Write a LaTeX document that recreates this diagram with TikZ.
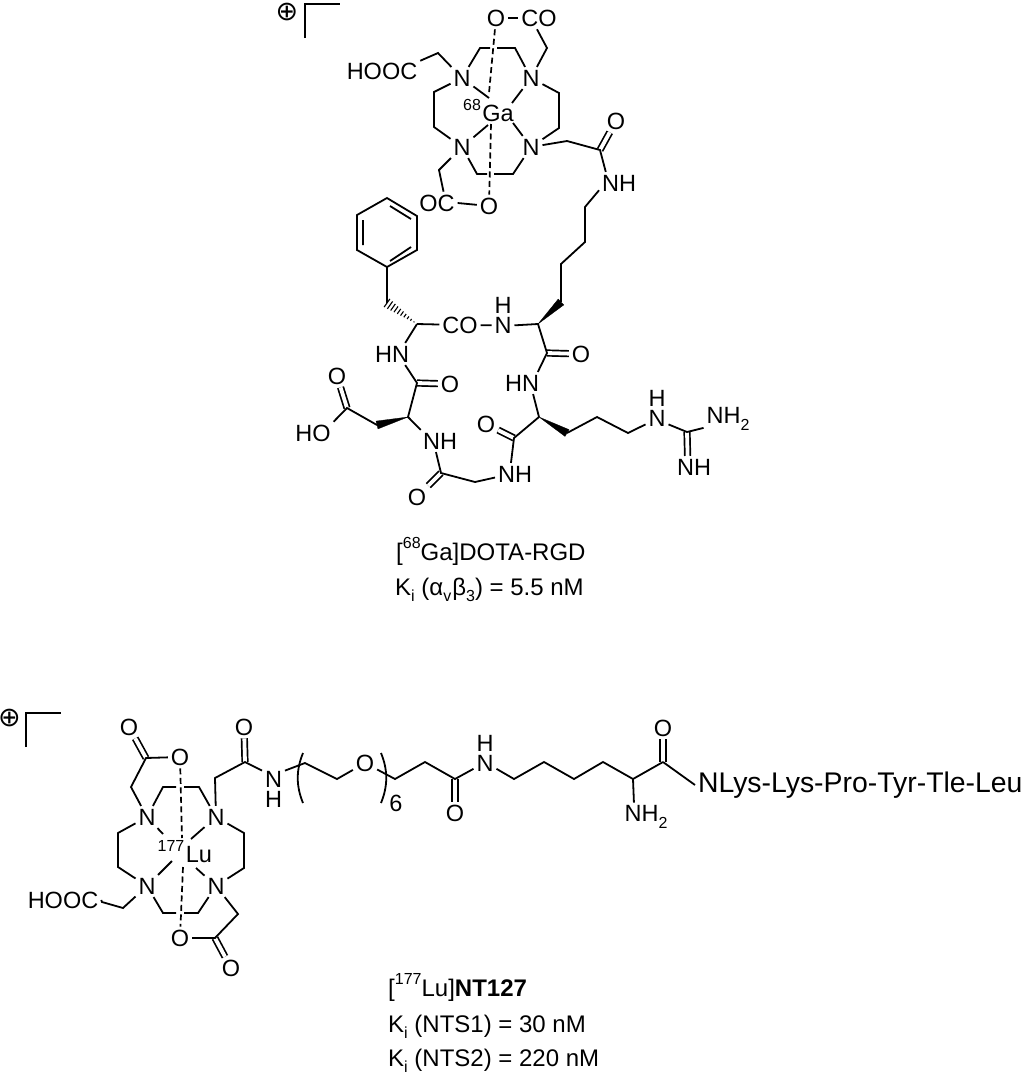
\documentclass[tikz,border=0pt]{standalone}
\usepackage{fontspec}
\setmainfont{Liberation Sans}
\newfontfamily\symf{DejaVu Sans}
\usetikzlibrary{calc}
\newcommand{\dnidx}[1]{\raisebox{-.28em}{\fontsize{16}{16}\selectfont #1}}
\newcommand{\upidx}[1]{\raisebox{.48em}{\fontsize{16}{16}\selectfont #1}}
\tikzset{
  atom/.style={inner sep=3pt,outer sep=0pt,font=\fontsize{23.5}{25}\selectfont},
  stack/.style={inner sep=3pt,outer sep=0pt,align=center,font=\fontsize{23.5}{20}\selectfont},
  iso/.style={inner sep=0pt,font=\fontsize{16}{17}\selectfont},
  lab/.style={inner sep=0pt,anchor=base west,font=\fontsize{24}{26}\selectfont},
  big/.style={inner sep=3pt,outer sep=0pt,font=\fontsize{28.4}{30}\selectfont},
  chg/.style={inner sep=0pt,font=\symf\fontsize{27}{29}\selectfont},
  bond/.style={draw,line width=1.8pt,line join=miter},
  dbl/.style={draw,line width=1.7pt,double,double distance=3.8pt},
  dsh/.style={draw,line width=1.7pt,dash pattern=on 6pt off 3.5pt},
  hsh/.style={draw,line width=1.1pt},
  wdg/.style={fill=black,draw=black,line width=.3pt}
}
\begin{document}
\begin{tikzpicture}[x=1pt,y=-1pt]
\useasboundingbox (0,0) rectangle (1024,1074);
% ---------- upper complex ----------
\node[chg] (pl1) at (287,12) {⊕};
\coordinate (br1a) at (305,38); \coordinate (br1b) at (305,4); \coordinate (br1c) at (340,4);
\draw[bond] (br1a) -- (br1b) -- (br1c);
\node[atom] (NA) at (531,78) {N};
\node[atom] (NB) at (462,78) {N};
\node[atom] (NC) at (462,147) {N};
\node[atom] (ND) at (531,147) {N};
\node[atom] (Ga) at (498,113) {Ga};
\node[iso] (Gai) at (472,105) {68};
\node[atom] (O1) at (496,18) {O};
\node[atom] (CO1) at (539,18) {CO};
\node[atom] (HOOC1) at (382,71) {HOOC};
\node[atom] (OC1) at (437,203) {OC};
\node[atom] (O2) at (489,206) {O};
\node[atom] (O3) at (616,121) {O};
\node[atom] (NH1) at (619,183) {NH};
\foreach \n/\x/\y in {t1/480/48,t2/515/48,tg1/490/48,tg2/497/48,l1/434/92,l2/434/127,r1/559/93,r2/559/128,b1/477/174,b2/513/174,bg1/487/174,bg2/494/174,c1/547/48,c2/438/53,c3/439/170,c4/567/141,c5/600/150,k1/585/207,k2/585/242,k3/561/264,k4/561/302,
 m1/489/98,m2/512/103,m3/488/125,m4/513/123,d1/489/93,d2/491/124}
  \coordinate (\n) at (\x,\y);
\draw[bond] (NB) -- (t1) -- (tg1) (tg2) -- (t2) -- (NA);
\draw[bond] (NB) -- (l1) -- (l2) -- (NC);
\draw[bond] (NA) -- (r1) -- (r2) -- (ND);
\draw[bond] (NC) -- (b1) -- (bg1) (bg2) -- (b2) -- (ND);
\draw[bond] (O1) -- (CO1);
\draw[bond] (CO1.-100) -- (c1) -- (NA);
\draw[bond] (HOOC1.15) -- (c2) -- (NB);
\draw[bond] (NC) -- (c3) -- (OC1.60);
\draw[bond] (OC1.east) -- (O2);
\draw[bond] (NB) -- (m1);
\draw[bond] (NA) -- (m2);
\draw[bond] (NC) -- (m3);
\draw[bond] (ND) -- (m4);
\draw[dsh] (O1) -- (d1);
\draw[dsh] (d2) -- (O2);
\draw[dbl] (c5) -- (O3);
\draw[bond] (ND) -- (c4) -- (c5) -- (NH1.140);
\draw[bond] (NH1.-160) -- (k1) -- (k2) -- (k3) -- (k4);
% ---------- cyclic peptide ----------
\foreach \n/\x/\y in {a1/538/324,a2/417/324,hb/387/303,p1/387/267,p2/417/250,p3/417/216,p4/387/198,p5/357/215,p6/357/250,
 i1/363/220,i2/363/245,i3/390/206,i4/411/219,i5/390/261,i6/411/247,
 e1/547/353,e2/417/383,e3/408/417,e4/377/425,e5/347/408,e6/441/473,e7/475/482,e8/514/438,e9/539/417,e10/567/433,e11/597/417,e12/628/433,e13/687/432}
  \coordinate (\n) at (\x,\y);
\node[stack] (N5) at (503,315) {H\\N};
\node[atom] (CO2) at (460,325) {CO};
\node[atom] (HN1) at (392,354) {HN};
\node[atom] (O4) at (581,354) {O};
\node[atom] (O5) at (450,384) {O};
\node[atom] (HN2) at (522,383) {HN};
\node[atom] (O6) at (337,376) {O};
\node[atom] (HO) at (313,433) {HO};
\node[atom] (NH2) at (440,441) {NH};
\node[atom] (O7) at (417,497) {O};
\node[atom] (NH3) at (515,474) {NH};
\node[atom] (O8) at (486,424) {O};
\node[stack] (N6) at (657,408) {H\\N};
\node[atom] (NH4) at (728,419) {NH\dnidx{2}};
\node[atom] (NH5) at (694,467) {NH};
\draw[bond] (p1) -- (p2) -- (p3) -- (p4) -- (p5) -- (p6) -- cycle;
\draw[bond] (i1) -- (i2) (i3) -- (i4) (i5) -- (i6);
\draw[bond] (p1) -- (hb);
\foreach \t in {0.1,0.2,...,1.01}
  \draw[hsh] ($(a2)!\t!(hb)+\t*(2.9,-4.1)$) -- ($(a2)!\t!(hb)-\t*(2.9,-4.1)$);
\fill[wdg] (a1) -- ($(k4)+(2.8,2.9)$) -- ($(k4)-(2.8,2.9)$) -- cycle;
\fill[wdg] (e3) -- ($(e4)+(1,3.9)$) -- ($(e4)-(1,3.9)$) -- cycle;
\fill[wdg] (e9) -- ($(e10)+(-2,3.4)$) -- ($(e10)-(-2,3.4)$) -- cycle;
\draw[dbl] (e1) -- (O4);
\draw[dbl] (e2) -- (O5);
\draw[dbl] (e5) -- (O6);
\draw[dbl] (e6) -- (O7);
\draw[dbl] (e8) -- (O8);
\draw[dbl] (e13) -- (NH5.120);
\draw[bond] (a2) -- (CO2);
\draw[bond] (CO2) -- (N5.-138);
\draw[bond] (N5.-42) -- (a1) -- (e1) -- (HN2.35);
\draw[bond] (HN2.-45) -- (e9);
\draw[bond] (a2) -- (HN1.40);
\draw[bond] (HN1.-40) -- (e2) -- (e3) -- (NH2.150);
\draw[bond] (NH2.-110) -- (e6) -- (e7) -- (NH3.190);
\draw[bond] (NH3.110) -- (e8) -- (e9);
\draw[bond] (e4) -- (e5) -- (HO.north east);
\draw[bond] (e10) -- (e11) -- (e12) -- (N6.-125);
\draw[bond] (N6.-55) -- (e13) -- (NH4.200);
\node[lab] (T1) at (396,560) {[\upidx{68}Ga]DOTA-RGD};
\node[lab] (T2) at (395,595) {K\dnidx{i} (α\dnidx{v}\kern1pt β\dnidx{3}) = 5.5 nM};
% ---------- lower complex ----------
\node[chg] (pl2) at (9.5,718) {⊕};
\coordinate (br2a) at (26,747); \coordinate (br2b) at (26,713); \coordinate (br2c) at (61,713);
\draw[bond] (br2a) -- (br2b) -- (br2c);
\node[atom] (Nb1) at (147,817) {N};
\node[atom] (Nb2) at (216,817) {N};
\node[atom] (Nb3) at (147,886) {N};
\node[atom] (Nb4) at (216,886) {N};
\node[atom] (Lu) at (199,855) {Lu};
\node[iso] (Lui) at (171,846) {177};
\node[atom] (Ob1) at (129,727) {O};
\node[atom] (Ob2) at (180,757) {O};
\node[atom] (Ob3) at (180,938) {O};
\node[atom] (Ob4) at (231,968) {O};
\node[atom] (Ob5) at (244,727) {O};
\node[atom] (HOOC2) at (63,900) {HOOC};
\node[stack] (Nb5) at (273.5,789) {N\\H};
\node[atom] (Ob6) at (365,763) {O};
\node[atom] (Ob7) at (455,813) {O};
\node[stack] (Nb6) at (485,753) {H\\N};
\node[atom] (Ob8) at (663,728) {O};
\node[atom] (NH6) at (646,817) {NH\dnidx{2}};
\node[atom,inner sep=0pt] (six) at (396,803) {6};
\node[big,anchor=west] (NLys) at (695,785) {NLys-Lys-Pro-Tyr-Tle-Leu};
\foreach \n/\x/\y in {u1/163/787,u2/199/787,ug1/176/787,ug2/184/787,v1/118/833,v2/118/867,w1/244/833,w2/244/868,
 x1/163/913,x2/198/913,xg1/176/913,xg2/184/913,
 f1/131/787,f2/146/758,f3/215/938,f4/238/914,f5/123/908,f6/102/902,f7/215/778,f8/245/762,
 g1/305/763,g2/337/779,g3/395/779,g4/425/762,g5/455/779,g6/514/779,g7/544/762,g8/574/779,g9/603/762,g10/633/779,g11/663/762,
 q1/182/838,q2/183/867,s1/163/834,s2/191/839,s3/172/861,s4/196/868,
 pa/303/753,pb/296/770,pc/296/786,pd/303/803,pe/381/753,pf/388/770,pg/388/786,ph/381/803}
  \coordinate (\n) at (\x,\y);
\draw[bond] (Nb1) -- (u1) -- (ug1) (ug2) -- (u2) -- (Nb2);
\draw[bond] (Nb1) -- (v1) -- (v2) -- (Nb3);
\draw[bond] (Nb2) -- (w1) -- (w2) -- (Nb4);
\draw[bond] (Nb3) -- (x1) -- (xg1) (xg2) -- (x2) -- (Nb4);
\draw[bond] (Nb1) -- (s1);
\draw[bond] (Nb2) -- (s2);
\draw[bond] (Nb3) -- (s3);
\draw[bond] (Nb4) -- (s4);
\draw[dsh] (Ob2) -- (q1);
\draw[dsh] (q2) -- (Ob3);
\draw[dbl] (f2) -- (Ob1);
\draw[dbl] (f3) -- (Ob4);
\draw[dbl] (f8) -- (Ob5);
\draw[dbl] (g5) -- (Ob7);
\draw[dbl] (g11) -- (Ob8);
\draw[bond] (Nb1) -- (f1) -- (f2) -- (Ob2);
\draw[bond] (Ob3) -- (f3) -- (f4) -- (Nb4);
\draw[bond] (Nb3) -- (f5) -- (f6) -- (HOOC2.east);
\draw[bond] (Nb2) -- (f7) -- (f8) -- (Nb5.122);
\draw[bond] (Nb5.58) -- (g1) -- (g2) -- (Ob6) -- (g3) -- (g4) -- (g5) -- (Nb6.-126);
\draw[bond] (Nb6.-54) -- (g6) -- (g7) -- (g8) -- (g9) -- (g10) -- (g11);
\draw[bond] (g10) -- (NH6.130);
\draw[bond] (g11) -- (NLys.west);
\draw[bond] (pa) .. controls (pb) and (pc) .. (pd);
\draw[bond] (pe) .. controls (pf) and (pg) .. (ph);
\node[lab] (T3) at (388,996) {[\upidx{177}Lu]\textbf{NT127}};
\node[lab] (T4) at (388,1032) {K\dnidx{i} (NTS1) = 30 nM};
\node[lab] (T5) at (388,1066) {K\dnidx{i} (NTS2) = 220 nM};
\end{tikzpicture}
\end{document}
